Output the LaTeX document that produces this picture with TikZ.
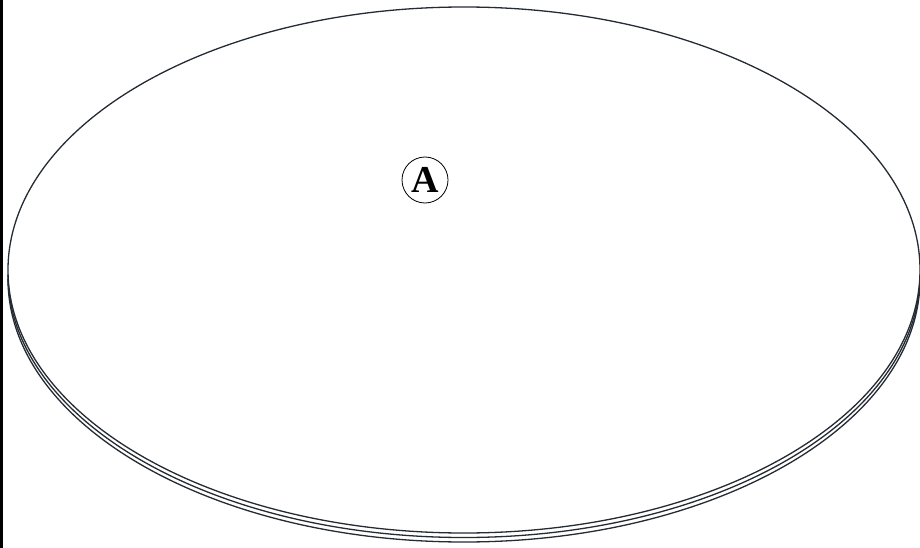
\documentclass[tikz,border=0pt]{standalone}
\usepackage{fontspec}
\setmainfont{Liberation Serif}
\definecolor{ink}{HTML}{252B33}
\begin{document}
\begin{tikzpicture}[x=1pt,y=-1pt,
  rim/.style={draw=ink,line width=1.3pt}]
\useasboundingbox (0,0) rectangle (920,548);
\fill[white] (0,0) rectangle (920,548);
% left border line
\draw[black,line width=3pt] (1.5,0) -- (1.5,548);
% lower rim copies (shifted down)
\draw[rim] (8,274.5) arc[start angle=180,end angle=0,x radius=456,y radius=263];
\draw[rim] (8,279) arc[start angle=180,end angle=0,x radius=456,y radius=263];
% top surface
\draw[rim] (464,270) ellipse[x radius=456,y radius=263];
% label
\node[draw=black,line width=0.8pt,circle,minimum size=46pt,inner sep=0pt,
      font=\fontsize{38}{38}\selectfont\bfseries] (A) at (425,180) {A};
\end{tikzpicture}
\end{document}
